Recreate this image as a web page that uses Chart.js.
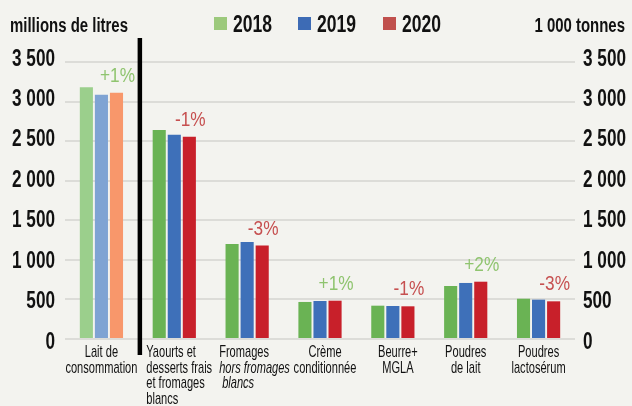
<!DOCTYPE html>
<html>
<head>
<meta charset="utf-8">
<script src="https://cdn.jsdelivr.net/npm/chart.js@4"></script>
<style>
html,body{margin:0;padding:0;background:#f3f3ef;}
#wrap{width:632px;height:406px;position:relative;}
</style>
</head>
<body>
<div id="wrap"><canvas id="c" width="632" height="406"></canvas></div>
<script>
const categories = [
  ['Lait de','consommation'],
  ['Yaourts et','desserts frais','et fromages','blancs'],
  ['Fromages','hors fromages','blancs'],
  ['Crème','conditionnée'],
  ['Beurre+','MGLA'],
  ['Poudres','de lait'],
  ['Poudres','lactosérum']
];
const seriesNames = ['2018','2019','2020'];
const values2018 = [3180, 2640, 1200, 468, 421, 670, 509];
const values2019 = [3085, 2580, 1225, 480, 417, 708, 497];
const values2020 = [3110, 2555, 1180, 484, 413, 724, 476];
const changes = ['+1%','-1%','-3%','+1%','-1%','+2%','-3%'];
const tickValues = [0, 500, 1000, 1500, 2000, 2500, 3000, 3500];
const leftUnit = 'millions de litres';
const rightUnit = '1 000 tonnes';

const FONT = "'Liberation Sans','Arial',sans-serif";
const lightCols = ['#9bcf8c','#7fa3d3','#f8976b'];
const darkCols = ['#6ab354','#3e70b9','#c8202a'];
const legendCols = ['#9cc97c','#3d6bb5','#c0504d'];
function colsFor(k){ return categories.map((c,i)=> i===0 ? lightCols[k] : darkCols[k]); }

const fmt = v => v >= 1000 ? Math.floor(v/1000) + ' ' + String(v%1000).padStart(3,'0') : String(v);

// draw horizontally condensed text (the reference uses a condensed typeface)
function calib(ctx, font, sample, target){
  ctx.save(); ctx.font = font; const w = ctx.measureText(sample).width; ctx.restore();
  return target / w;
}
function txt(ctx, s, x, y, font, sx, align, color){
  ctx.save();
  ctx.font = font;
  ctx.fillStyle = color;
  ctx.textAlign = align;
  ctx.textBaseline = 'alphabetic';
  ctx.translate(x, y);
  ctx.scale(sx, 1);
  ctx.fillText(s, 0, 0);
  ctx.restore();
}

const F_TICK = "bold 24px " + FONT;
const F_UNIT = "bold 20px " + FONT;
const F_LEG = "bold 23px " + FONT;
const F_PCT = "21px " + FONT;
const F_CAT = "17px " + FONT;
const F_CAT_I = "italic 17px " + FONT;

const overlay = {
  id:'overlay',
  afterDatasetsDraw(chart){
    const ctx = chart.ctx;
    const meta = chart.getDatasetMeta(2);
    const sx = calib(ctx, F_PCT, '+1%', 35);
    changes.forEach((t,i)=>{
      const b = meta.data[i];
      txt(ctx, t, b.x + 1, b.y - 11, F_PCT, sx, 'center', t.startsWith('+') ? '#8fc46f' : '#c65050');
    });
  },
  afterDraw(chart){
    const ctx = chart.ctx;
    const xs = chart.scales.x;
    const lab = chart.scales.y2;
    const area = chart.chartArea;
    // tick labels (both sides)
    const sxT = calib(ctx, F_TICK, '3 500', 43);
    tickValues.forEach(v=>{
      const py = lab.getPixelForValue(v) + 8.6;
      txt(ctx, fmt(v), area.left - 10, py, F_TICK, sxT, 'right', '#111');
      txt(ctx, fmt(v), area.right + 8, py, F_TICK, sxT, 'left', '#111');
    });
    // separator
    ctx.save();
    const sepX = (xs.getPixelForValue(0) + xs.getPixelForValue(1))/2 + 2;
    ctx.strokeStyle = '#000';
    ctx.lineWidth = 4.5;
    ctx.beginPath(); ctx.moveTo(sepX, 38); ctx.lineTo(sepX, 355); ctx.stroke();
    ctx.restore();
    // category labels
    const italic = {2:[1,2]};
    const leftAligned = [1,2];
    const sxC = calib(ctx, F_CAT, 'consommation', 72);
    categories.forEach((lines,i)=>{
      const cx = xs.getPixelForValue(i);
      lines.forEach((ln,j)=>{
        const it = italic[i] && italic[i].includes(j);
        const f = it ? F_CAT_I : F_CAT;
        const by = area.bottom + 18 + j*15.7;
        if (leftAligned.includes(i)) {
          txt(ctx, ln, cx - 28 + (i===2 && j===2 ? 3 : 0), by, f, sxC, 'left', '#111');
        } else {
          txt(ctx, ln, cx + (i===3||i===4 ? 5 : 0), by, f, sxC, 'center', '#111');
        }
      });
    });
    // units
    const sxU = calib(ctx, F_UNIT, leftUnit, 118);
    txt(ctx, leftUnit, 10, 31.5, F_UNIT, sxU, 'left', '#111');
    txt(ctx, rightUnit, 625, 31.5, F_UNIT, sxU, 'right', '#111');
    // legend
    const lx = [214, 298, 383];
    const sxL = calib(ctx, F_LEG, '2018', 39);
    seriesNames.forEach((n,k)=>{
      ctx.fillStyle = legendCols[k];
      ctx.fillRect(lx[k], 17, 13, 13);
      txt(ctx, n, lx[k] + 19, 31.5, F_LEG, sxL, 'left', '#111');
    });
  }
};

new Chart(document.getElementById('c'), {
  type:'bar',
  data:{
    labels: categories,
    datasets:[
      {label:seriesNames[0], data:values2018, backgroundColor:colsFor(0), yAxisID:'y'},
      {label:seriesNames[1], data:values2019, backgroundColor:colsFor(1), yAxisID:'y'},
      {label:seriesNames[2], data:values2020, backgroundColor:colsFor(2), yAxisID:'y'}
    ]
  },
  options:{
    responsive:false,
    animation:false,
    layout:{padding:{top:62, bottom:67, left:0, right:0}},
    datasets:{bar:{barPercentage:0.87, categoryPercentage:0.62}},
    plugins:{legend:{display:false}, tooltip:{enabled:false}},
    scales:{
      x:{
        display:false
      },
      y:{
        position:'left',
        min:0, max:3500,
        afterBuildTicks: s => { s.ticks = tickValues.map(v=>({value:v})); },
        afterFit: s => { s.width = 65; },
        border:{display:false},
        grid:{color:'#dcdcd8', lineWidth:2, drawTicks:false},
        ticks:{display:false}
      },
      y2:{
        position:'right',
        min:12, max:3438,
        afterFit: s => { s.width = 57; },
        border:{display:false},
        grid:{display:false, drawTicks:false},
        ticks:{display:false}
      }
    }
  },
  plugins:[overlay]
});
</script>
</body>
</html>
